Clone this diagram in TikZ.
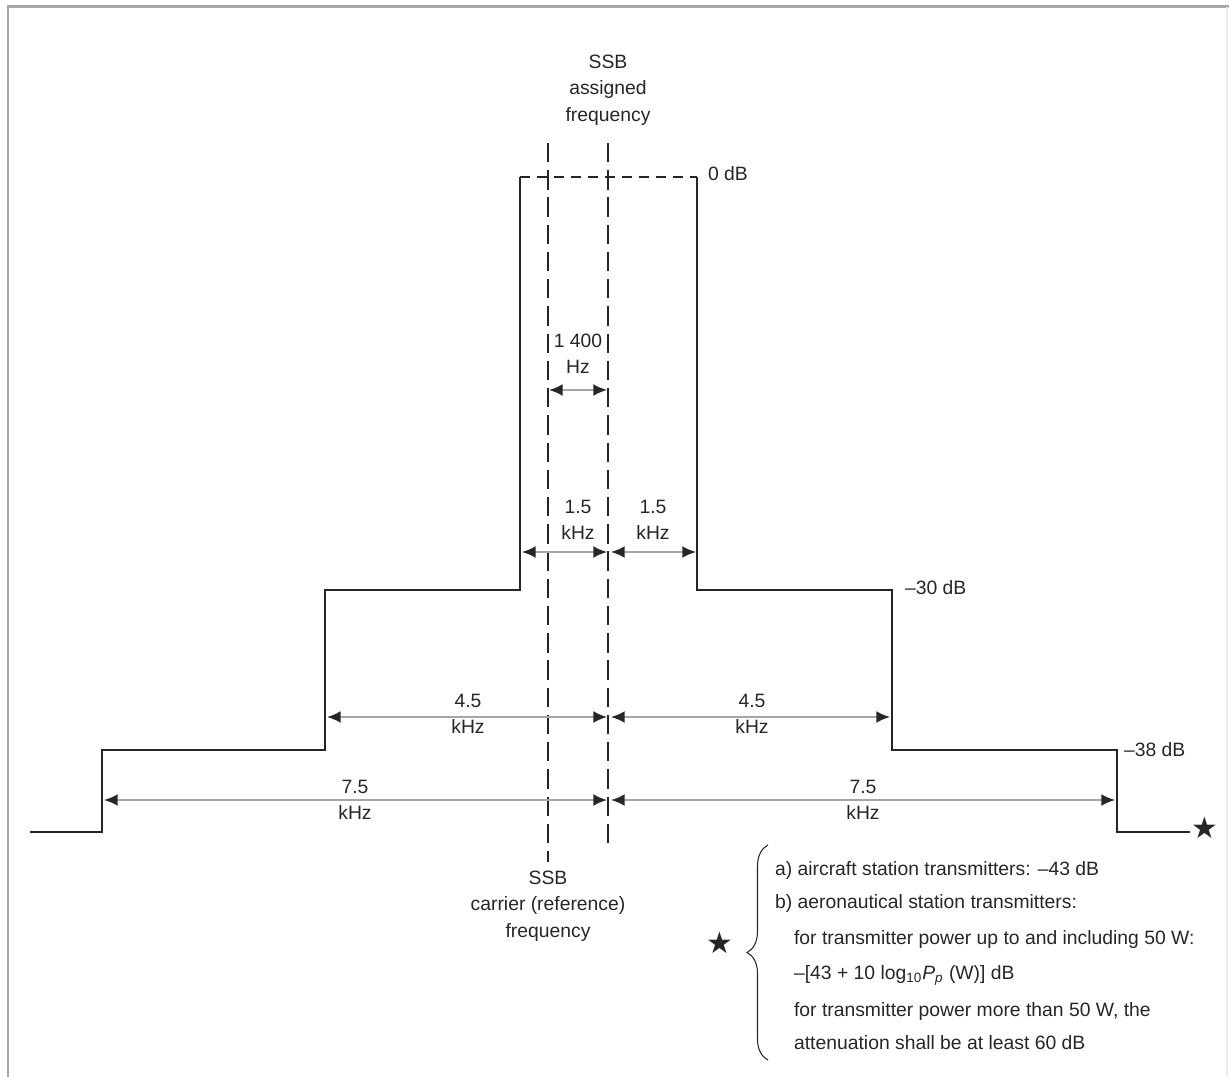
\documentclass[tikz,border=0pt]{standalone}
\usepackage{fontspec}
\setmainfont{Liberation Sans}
\newfontfamily\symfont{DejaVu Sans}
\usetikzlibrary{arrows.meta,decorations.pathreplacing}

\begin{document}
\begin{tikzpicture}[x=0.02cm, y=-0.02cm,
        every node/.style={font=\fontsize{11}{15}\selectfont, text=black!85, inner sep=1pt},
        mask/.style={line width=1.1pt, black!85},
        refline/.style={line width=1.1pt, black!85, dash pattern=on 11pt off 4.5pt},
        topline/.style={line width=1.1pt, black!85, dash pattern=on 5.7pt off 4pt},
        dim/.style={line width=1.1pt, black!35, {Latex[black!85,length=7.8pt,width=6.8pt]}-{Latex[black!85,length=7.8pt,width=6.8pt]}}]
        \useasboundingbox (0,0) rectangle (1229,1077);
        \draw [gray!70, line width=1.7pt] (8,1077) -- (8,7) -- (1229,7);
        \draw [gray!15, line width=1pt] (1227,7) -- (1227,1077);

        % mask corners
        \coordinate (m0) at (30,832);
        \coordinate (m1) at (102,832);
        \coordinate (m2) at (102,750);
        \coordinate (m3) at (325,750);
        \coordinate (m4) at (325,590);
        \coordinate (m5) at (520,590);
        \coordinate (m6) at (520,177);
        \coordinate (m7) at (697,177);
        \coordinate (m8) at (697,590);
        \coordinate (m9) at (892,590);
        \coordinate (m10) at (892,750);
        \coordinate (m11) at (1117,750);
        \coordinate (m12) at (1117,832);
        \node (starR) at (1205,828) {\symfont\fontsize{17}{17}\selectfont ★};

        \draw [mask] (m0) -- (m1) -- (m2) -- (m3) -- (m4) -- (m5) -- (m6);
        \draw [mask] (m7) -- (m8) -- (m9) -- (m10) -- (m11) -- (m12) -- (m12 -| starR.west);
        \draw [topline] (m6) -- (m7);

        % carrier and assigned frequency
        \coordinate (cartop) at (548,143);
        \coordinate (carbot) at (548,862);
        \coordinate (asgtop) at (608,143);
        \coordinate (asgbot) at (608,845);
        \draw [refline] (cartop) -- (carbot);
        \draw [refline] (asgtop) -- (asgbot);
        \node [align=center] (asg) at (608,90) {SSB\\assigned\\frequency};
        \node [align=center] (car) at (548,906) {SSB\\carrier (reference)\\frequency};

        \node [anchor=west] (db0) at (706,174) {0 dB};
        \node [anchor=west] (db30) at (903,588) {–30 dB};
        \node [anchor=west] (db38) at (1122,750) {–38 dB};

        % dimensions
        \coordinate (h1l) at (549,390);
        \coordinate (h1r) at (607,390);
        \draw [dim] (h1l) -- (h1r);
        \node [align=center] (lbl1400) at (578,354) {1 400\\Hz};

        \coordinate (k1l) at (522,552);
        \coordinate (k1m) at (607,552);
        \coordinate (k1n) at (611,552);
        \coordinate (k1r) at (696,552);
        \draw [dim] (k1l) -- (k1m);
        \draw [dim] (k1n) -- (k1r);
        \node [align=center] (lbl15a) at (578,520) {1.5\\kHz};
        \node [align=center] (lbl15b) at (653,520) {1.5\\kHz};

        \coordinate (k4l) at (327,717);
        \coordinate (k4m) at (607,717);
        \coordinate (k4n) at (611,717);
        \coordinate (k4r) at (890,717);
        \draw [dim] (k4l) -- (k4m);
        \draw [dim] (k4n) -- (k4r);
        \node [align=center] (lbl45a) at (468,714) {4.5\\kHz};
        \node [align=center] (lbl45b) at (752,714) {4.5\\kHz};

        \coordinate (k7l) at (104,800);
        \coordinate (k7m) at (607,800);
        \coordinate (k7n) at (611,800);
        \coordinate (k7r) at (1115,800);
        \draw [dim] (k7l) -- (k7m);
        \draw [dim] (k7n) -- (k7r);
        \node [align=center] (lbl75a) at (355,800) {7.5\\kHz};
        \node [align=center] (lbl75b) at (863,800) {7.5\\kHz};

        % footnote
        \node (starL) at (720,943) {\symfont\fontsize{17}{17}\selectfont ★};
        \draw [black!85, line width=0.6pt, decorate, decoration={brace, amplitude=0.42cm}] (768,1060) -- (768,845);
        \node [anchor=west] (nta) at (773,870) {a) aircraft station transmitters: –43 dB};
        \node [anchor=west] (ntb) at (773,903) {b) aeronautical station transmitters:};
        \node [anchor=west] (ntc) at (792,939) {for transmitter power up to and including 50 W:};
        \node [anchor=west] (ntd) at (792,975) {–[43 + 10 log\textsubscript{10}\textit{P}\textsubscript{\textit{p}} (W)] dB};
        \node [anchor=west] (nte) at (792,1011) {for transmitter power more than 50 W, the};
        \node [anchor=west] (ntf) at (792,1043) {attenuation shall be at least 60 dB};
\end{tikzpicture}
\end{document}
